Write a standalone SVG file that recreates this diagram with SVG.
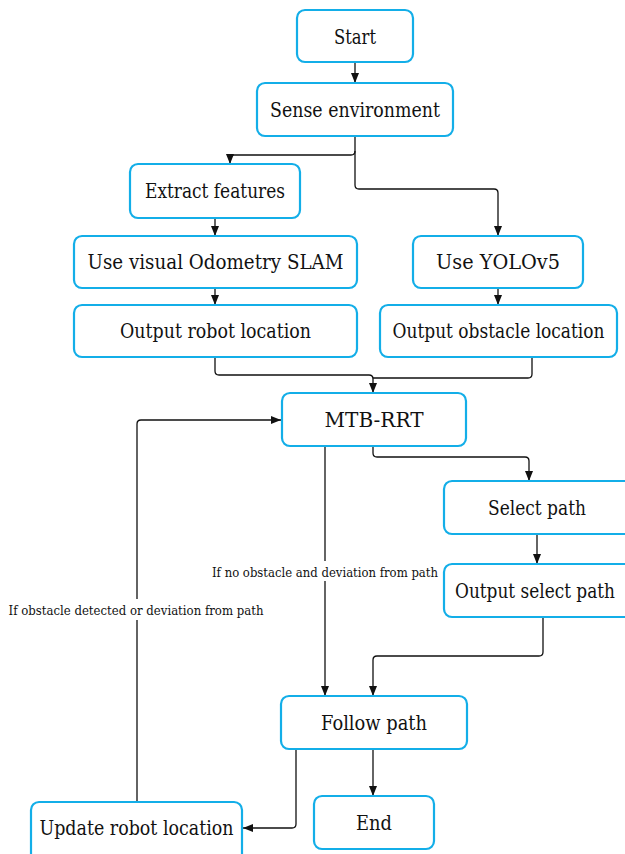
<svg xmlns="http://www.w3.org/2000/svg" width="625" height="854" viewBox="0 0 625 854">
<style>
.box{fill:#fff;stroke:#13aee8;stroke-width:2.2}
.t{font-family:'DejaVu Serif',serif;font-size:19.5px;fill:#111;text-anchor:middle}
.lbl{font-family:'DejaVu Serif',serif;font-size:13.5px;fill:#111;text-anchor:middle}
.c{fill:none;stroke:#111;stroke-width:1.3}
</style>
<defs>
<marker id="ah" markerUnits="userSpaceOnUse" markerWidth="10" markerHeight="10" viewBox="0 0 10 10" refX="10" refY="5" orient="auto">
<path d="M0,1 L10,5 L0,9 z" fill="#111"/>
</marker>
</defs>
<rect width="625" height="854" fill="#fff"/>
<g id="connectors">
<path class="c" d="M355,62 V83" marker-end="url(#ah)"/>
<path class="c" d="M355,136 V151 Q355,155 351,155 H234 Q230,155 230,159 V164" marker-end="url(#ah)"/>
<path class="c" d="M355,151 V185 Q355,189 359,189 H494 Q498,189 498,193 V236" marker-end="url(#ah)"/>
<path class="c" d="M215,218 V236" marker-end="url(#ah)"/>
<path class="c" d="M215,288 V305" marker-end="url(#ah)"/>
<path class="c" d="M498,288 V305" marker-end="url(#ah)"/>
<path class="c" d="M215,357 V371 Q215,375 219,375 H369 Q373,375 373,379 V393" marker-end="url(#ah)"/>
<path class="c" d="M532,357 V374 Q532,378 528,378 H373"/>
<path class="c" d="M373,446 V453 Q373,457 377,457 H525 Q529,457 529,461 V481" marker-end="url(#ah)"/>
<path class="c" d="M325,446 V696" marker-end="url(#ah)"/>
<path class="c" d="M537,534 V564" marker-end="url(#ah)"/>
<path class="c" d="M543,617 V652 Q543,656 539,656 H377 Q373,656 373,660 V696" marker-end="url(#ah)"/>
<path class="c" d="M373,749 V796" marker-end="url(#ah)"/>
<path class="c" d="M296,749 V824 Q296,828 292,828 H243" marker-end="url(#ah)"/>
<path class="c" d="M137,802 V424 Q137,420 141,420 H281" marker-end="url(#ah)"/>
<rect x="211" y="561" width="228" height="20" fill="#fff"/>
<text class="lbl" x="325" y="577" textLength="226" lengthAdjust="spacingAndGlyphs">If no obstacle and deviation from path</text>
<rect x="7" y="599" width="258" height="21" fill="#fff"/>
<text class="lbl" x="136" y="615" textLength="255" lengthAdjust="spacingAndGlyphs">If obstacle detected or deviation from path</text>
</g>
<g id="start"><rect class="box" x="297" y="10" width="116" height="52" rx="8"/><text class="t" x="355" y="43.5" textLength="42" lengthAdjust="spacingAndGlyphs">Start</text></g>
<g id="sense"><rect class="box" x="257" y="83" width="196" height="53" rx="8"/><text class="t" x="355" y="116.5" textLength="170" lengthAdjust="spacingAndGlyphs">Sense environment</text></g>
<g id="extract"><rect class="box" x="130" y="164" width="170" height="54" rx="8"/><text class="t" x="215" y="198" textLength="140" lengthAdjust="spacingAndGlyphs">Extract features</text></g>
<g id="slam"><rect class="box" x="74" y="236" width="283" height="52" rx="8"/><text class="t" x="215.5" y="269" textLength="256" lengthAdjust="spacingAndGlyphs">Use visual Odometry SLAM</text></g>
<g id="yolo"><rect class="box" x="413" y="236" width="170" height="52" rx="8"/><text class="t" x="498" y="269" textLength="124" lengthAdjust="spacingAndGlyphs">Use YOLOv5</text></g>
<g id="robotloc"><rect class="box" x="74" y="305" width="283" height="52" rx="8"/><text class="t" x="215.5" y="338" textLength="191" lengthAdjust="spacingAndGlyphs">Output robot location</text></g>
<g id="obstacleloc"><rect class="box" x="380" y="305" width="237" height="52" rx="8"/><text class="t" x="498.5" y="338" textLength="212" lengthAdjust="spacingAndGlyphs">Output obstacle location</text></g>
<g id="mtbrrt"><rect class="box" x="282" y="393" width="184" height="53" rx="8"/><text class="t" x="374" y="426.5" textLength="99" lengthAdjust="spacingAndGlyphs">MTB-RRT</text></g>
<g id="selectpath"><rect class="box" x="444" y="481" width="190" height="53" rx="8"/><text class="t" x="537" y="514.5" textLength="98" lengthAdjust="spacingAndGlyphs">Select path</text></g>
<g id="outputselect"><rect class="box" x="444" y="564" width="190" height="53" rx="8"/><text class="t" x="535" y="597.5" textLength="160" lengthAdjust="spacingAndGlyphs">Output select path</text></g>
<g id="followpath"><rect class="box" x="281" y="696" width="186" height="53" rx="8"/><text class="t" x="374" y="729.5" textLength="106" lengthAdjust="spacingAndGlyphs">Follow path</text></g>
<g id="updaterobot"><rect class="box" x="31" y="802" width="211" height="60" rx="8"/><text class="t" x="136.5" y="835" textLength="194" lengthAdjust="spacingAndGlyphs">Update robot location</text></g>
<g id="end"><rect class="box" x="314" y="796" width="120" height="53" rx="8"/><text class="t" x="374" y="829.5" textLength="36" lengthAdjust="spacingAndGlyphs">End</text></g>
</svg>
